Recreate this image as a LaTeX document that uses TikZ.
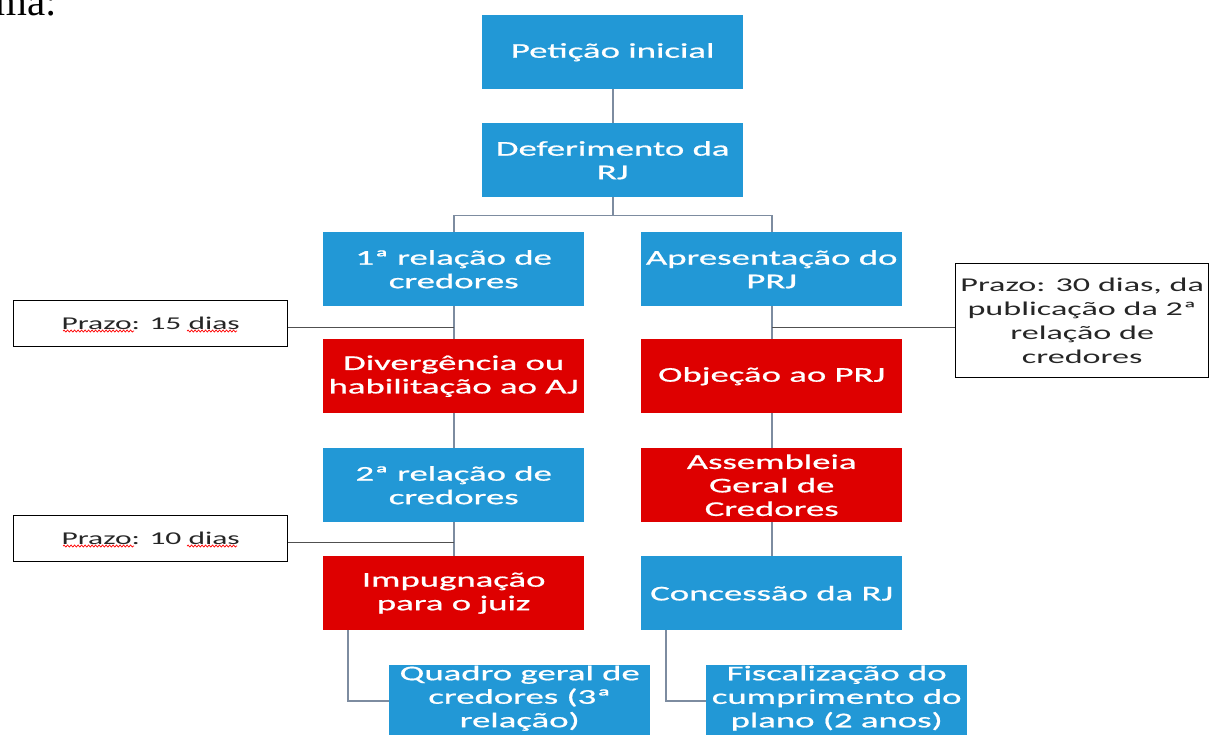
\documentclass[tikz,border=0pt]{standalone}
\usepackage{fontspec}
\setmainfont{Carlito}[FakeStretch=1.75]
\newfontfamily\boxfont{Carlito}[FakeStretch=1.75, FakeBold=0.8]
\newfontfamily\serifpart{Liberation Serif}
\usetikzlibrary{decorations.pathmorphing}
\definecolor{boxblue}{RGB}{34,152,214}
\definecolor{boxred}{RGB}{222,0,0}
\definecolor{linkgrey}{RGB}{125,140,160}
\definecolor{calloutline}{RGB}{80,80,80}
\begin{document}
\begin{tikzpicture}[x=1pt,y=-1pt,
  flowbox/.style={draw=none, minimum width=261pt, minimum height=74pt, inner sep=0pt, align=center, text=white, font=\boxfont\fontsize{21}{23.5}\selectfont, anchor=north west},
  bluebox/.style={flowbox, fill=boxblue},
  redbox/.style={flowbox, fill=boxred},
  notebox/.style={draw=black, line width=1.3pt, fill=white, inner sep=0pt, align=center, anchor=north west, text=black!85, font=\fontsize{19.5}{24}\selectfont},
  link/.style={draw=linkgrey, line width=1.8pt},
  notelink/.style={draw=calloutline, line width=1.3pt},
  squiggle/.style={draw=red, line width=0.7pt, decorate, decoration={snake, amplitude=1pt, segment length=3.5pt}}]
\useasboundingbox (0,0) rectangle (1210,734);
\clip (0,0) rectangle (1210,734);
\fill[white] (0,0) rectangle (1210,734);

% fragment of preceding text
\node[anchor=base west, inner sep=0pt, font=\serifpart\fontsize{41}{41}\selectfont] (frag) at (-5,15) {ma:};

% main chain
\node[bluebox] (pet) at (482,15) {Petição inicial};
\node[bluebox] (def) at (482,123) {Deferimento da\\RJ};

% left column
\node[bluebox] (rel1) at (323,232) {1ª relação de\\credores};
\node[redbox]  (div)  at (323,339) {Divergência ou\\habilitação ao AJ};
\node[bluebox] (rel2) at (323,448) {2ª relação de\\credores};
\node[redbox]  (imp)  at (323,556) {Impugnação\\para o juiz};
\node[bluebox, minimum height=66pt] (qua)  at (389,665) {Quadro geral de\\credores (3ª\\relação)};
\fill[boxblue] (qua.south west) rectangle ++(261,12);

% right column
\node[bluebox] (apr) at (641,232) {Apresentação do\\PRJ};
\node[redbox]  (obj) at (641,339) {Objeção ao PRJ};
\node[redbox]  (ass) at (641,448) {Assembleia\\Geral de\\Credores};
\node[bluebox] (con) at (641,556) {Concessão da RJ};
\node[bluebox, minimum height=66pt] (fis) at (706,665) {Fiscalização do\\cumprimento do\\plano (2 anos)};
\fill[boxblue] (fis.south west) rectangle ++(261,12);

% callouts
\node[notebox, minimum width=274pt, minimum height=46pt, font=\fontsize{18}{22}\selectfont] (p15) at (13,300) {Prazo: 15 dias};
\node[notebox, minimum width=274pt, minimum height=46pt, font=\fontsize{18}{22}\selectfont] (p10) at (13,515) {Prazo: 10 dias};
\node[notebox, minimum width=253pt, minimum height=114pt] (p30) at (955,263) {Prazo: 30 dias, da\\publicação da 2ª\\relação de\\credores};

% spell-check squiggles
\draw[squiggle] (63,331) -- (134,331);
\draw[squiggle] (187,331) -- (237,331);
\draw[squiggle] (63,546) -- (134,546);
\draw[squiggle] (187,546) -- (237,546);

% connectors
\draw[link] (pet.south) -- (def.north);
\draw[link] (def.south) -- ++(0,18) coordinate (br);
\draw[link] (br) -| (rel1.north);
\draw[link] (br) -| (apr.north);
\draw[link] (rel1.south) -- (div.north);
\draw[link] (div.south) -- (rel2.north);
\draw[link] (rel2.south) -- (imp.north);
\draw[link] ([xshift=25pt]imp.south west) |- ([yshift=-3pt]qua.west);
\draw[link] (apr.south) -- (obj.north);
\draw[link] (obj.south) -- (ass.north);
\draw[link] (ass.south) -- (con.north);
\draw[link] ([xshift=25pt]con.south west) |- ([yshift=-3pt]fis.west);

\draw[notelink] ([yshift=-4pt]p15.east) -- ([yshift=-4pt]p15.east -| rel1.south);
\draw[notelink] ([yshift=-4pt]p10.east) -- ([yshift=-4pt]p10.east -| rel2.south);
\draw[notelink] ([yshift=-7pt]p30.west) -- ([yshift=-7pt]p30.west -| apr.south);
\end{tikzpicture}
\end{document}
